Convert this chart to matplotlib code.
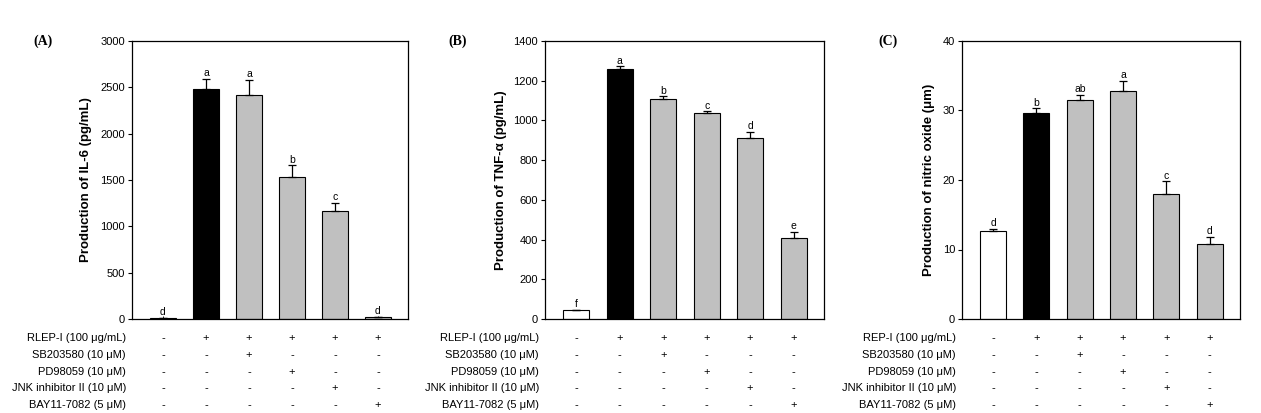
import numpy as np
import matplotlib.pyplot as plt
from matplotlib.transforms import blended_transform_factory

plt.rcParams['font.family'] = ['Liberation Sans', 'DejaVu Sans']

# data
il6 = [10, 2479, 2414, 1529, 1162, 18]
il6_err = [0, 111, 162, 129, 90, 8]
il6_letters = ['d', 'a', 'a', 'b', 'c', 'd']

tnf = [44, 1259, 1108, 1035, 911, 407]
tnf_err = [0, 13, 13, 10, 33, 30]
tnf_letters = ['f', 'a', 'b', 'c', 'd', 'e']

no = [12.6, 29.6, 31.5, 32.8, 17.96, 10.85]
no_err = [0.4, 0.7, 0.7, 1.5, 1.84, 1.0]
no_letters = ['d', 'b', 'ab', 'a', 'c', 'd']

treat_rows = ['RLEP-I (100 \u03bcg/mL)', 'SB203580 (10 \u03bcM)', 'PD98059 (10 \u03bcM)',
              'JNK inhibitor II (10 \u03bcM)', 'BAY11-7082 (5 \u03bcM)']
treat_rows_c = ['REP-I (100 \u03bcg/mL)'] + treat_rows[1:]
signs = [['-', '+', '+', '+', '+', '+'],
         ['-', '-', '+', '-', '-', '-'],
         ['-', '-', '-', '+', '-', '-'],
         ['-', '-', '-', '-', '+', '-'],
         ['-', '-', '-', '-', '-', '+']]
colors = ['white', 'black', '#c0c0c0', '#c0c0c0', '#c0c0c0', '#c0c0c0']

W, H = 1261, 413
fig = plt.figure(figsize=(W / 100, H / 100), dpi=100)

panels = [
    dict(left=132, right=408, vals=il6, err=il6_err, let=il6_letters, ymax=3000, step=500,
         ylabel='Production of IL-6 (pg/mL)', tag='(A)', tagx=43, ylx=92, rows=treat_rows),
    dict(left=545, right=824, vals=tnf, err=tnf_err, let=tnf_letters, ymax=1400, step=200,
         ylabel='Production of TNF-\u03b1 (pg/mL)', tag='(B)', tagx=458, ylx=507, rows=treat_rows),
    dict(left=962, right=1240, vals=no, err=no_err, let=no_letters, ymax=40, step=10,
         ylabel='Production of nitric oxide (\u03bcm)', tag='(C)', tagx=888, ylx=935, rows=treat_rows_c),
]
top, bottom = 41, 319
row_y = [338, 355, 372, 388, 405]

for p in panels:
    ax = fig.add_axes([p['left'] / W, 1 - bottom / H, (p['right'] - p['left']) / W, (bottom - top) / H])
    x = np.arange(6)
    ax.bar(x, p['vals'], width=0.6, color=colors, edgecolor='black', linewidth=0.8, zorder=2)
    ax.errorbar(x, p['vals'], yerr=[np.zeros(6), p['err']], fmt='none', ecolor='black',
                elinewidth=0.9, capsize=3, capthick=0.9, zorder=3)
    for xi, v, e, l in zip(x, p['vals'], p['err'], p['let']):
        ax.text(xi, v + e + p['ymax'] * 0.003, l, ha='center', va='bottom', fontsize=7.5)
    ax.set_xlim(-0.72, 5.7)
    ax.set_ylim(0, p['ymax'])
    ax.set_yticks(np.arange(0, p['ymax'] + 1, p['step']))
    ax.set_xticks(x)
    ax.set_xticklabels([])
    ax.tick_params(axis='x', direction='in', length=2, width=0.6)
    ax.tick_params(axis='y', direction='out', length=3, width=0.8, labelsize=8, pad=2)
    for s in ax.spines.values():
        s.set_linewidth(0.9)
    ax.set_ylabel(p['ylabel'], fontsize=9.5, fontweight='bold')
    ax.yaxis.set_label_coords((p['ylx'] - p['left']) / (p['right'] - p['left']), 0.5)
    fig.text(p['tagx'] / W, 1 - top / H, p['tag'], family='Liberation Serif', fontsize=10,
             fontweight='bold', ha='center', va='center')
    tr = blended_transform_factory(ax.transData, fig.transFigure)
    for r, (name, ry) in enumerate(zip(p['rows'], row_y)):
        fig.text((p['left'] - 6) / W, 1 - ry / H, name, ha='right', va='center', fontsize=8)
        for xi in x:
            ax.text(xi, 1 - ry / H, signs[r][xi], transform=tr, ha='center', va='center',
                    fontsize=8, clip_on=False)

fig.savefig('out.png', dpi=100)
